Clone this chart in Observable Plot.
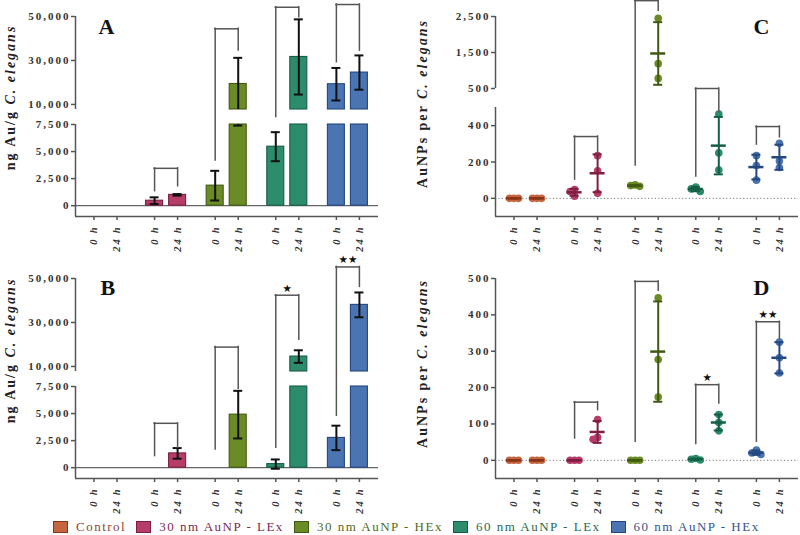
<!DOCTYPE html>
<html>
<head>
<meta charset="utf-8">
<script src="https://cdn.jsdelivr.net/npm/d3@7"></script>
<script src="https://cdn.jsdelivr.net/npm/@observablehq/plot@0.6"></script>
<style>
body{margin:0;background:#fff}
#fig{position:relative;width:800px;height:535px;background:#fff;overflow:hidden}
.panel{position:absolute;width:400px}
.panel svg{overflow:visible}
.panel g[aria-label^="y-axis"] text{font-family:"Liberation Serif",serif;font-weight:bold;font-size:11px;letter-spacing:2px;fill:#333}
.panel g[aria-label^="x-axis"] text{font-family:"Liberation Serif",serif;font-weight:bold;font-style:italic;font-size:10.5px;letter-spacing:1.8px;fill:#333}
.panel g[aria-label^="y-axis"] path,.panel g[aria-label^="y-axis"] line,
.panel g[aria-label^="x-axis"] path,.panel g[aria-label^="x-axis"] line{stroke:#555;stroke-width:1.5}
#legend{position:absolute;left:53px;top:519px;height:16px;display:flex;align-items:center;font-family:"Liberation Serif",serif;font-size:13px;letter-spacing:1.5px;white-space:nowrap}
.item{display:flex;align-items:center;margin-right:10px}
.sw{width:13px;height:10px;border:1.5px solid;margin-right:8px}
</style>
</head>
<body>
<div id="fig">
  <div class="panel" id="pA" style="left:0;top:0"></div>
  <div class="panel" id="pC" style="left:400px;top:0"></div>
  <div class="panel" id="pB" style="left:0;top:262px"></div>
  <div class="panel" id="pD" style="left:400px;top:262px"></div>
  <div id="legend"></div>
</div>
<script>
// ---------- categories ----------
const groups = ["Control", "30 nm AuNP - LEx", "30 nm AuNP - HEx", "60 nm AuNP - LEx", "60 nm AuNP - HEx"];
const times = ["0 h", "24 h"];
const colors = ["#C4663F", "#B63D68", "#6B8B26", "#2C8C6C", "#4A74B2"];
const darks = ["#8A3418", "#7D1E42", "#3F5A10", "#155E45", "#25477F"];
const legendInk = ["#8E4632", "#7E2A4E", "#4F6B1E", "#1F6B55", "#32558E"];

// ---------- Panel A : ng Au/g C. elegans (bars, mean ± SD) ----------
const aMean0 = [0, 460, 1850, 5450, 19200];
const aSd0 = [0, 310, 1370, 1340, 7400];
const aMean24 = [0, 1000, 19300, 31600, 24500];
const aSd24 = [0, 70, 11900, 17100, 7800];
const aBrTop = [null, 3450, 44400, 54200, 55450];
const aBrLeft = [null, 1340, 4180, 7600, 29200];
const aBrRight = [null, 1800, 34500, 49700, 34500];
const aSig = ["", "", "", "", ""];
const abTicks = [0, 2500, 5000, 7500, 10000, 30000, 50000];

// ---------- Panel B ----------
const bMean0 = [0, 0, 0, 330, 2750];
const bSd0 = [0, 0, 0, 430, 1130];
const bMean24 = [0, 1320, 4900, 14500, 38000];
const bSd24 = [0, 490, 2200, 2850, 5650];
const bBrTop = [null, 4100, 18800, 42400, 55250];
const bBrLeft = [null, 1070, 1680, 1840, 4800];
const bBrRight = [null, 1840, 7300, 22100, 46200];
const bSig = ["", "", "", "★", "★★"];

// ---------- Panel C : AuNPs per C. elegans (points, mean ± SD) ----------
const cPts0 = [[0, 0, 0], [48, 38, 12], [74, 70, 66], [62, 52, 38], [235, 180, 100]];
const cPts24 = [[0, 0, 0], [235, 152, 28], [2450, 1190, 780], [464, 250, 156], [303, 205, 170]];
const cMean0 = [0, 33, 70, 51, 172];
const cSd0 = [0, 19, 4, 12, 68];
const cMean24 = [0, 138, 1473, 290, 226];
const cSd24 = [0, 104, 870, 158, 69];
const cBrTop = [null, 340, 2940, 500, 395];
const cBrLeft = [null, 103, 180, 120, 296];
const cBrRight = [null, 244, 2660, 475, 336];
const cSig = ["", "", "", "", ""];
const cTicks = [0, 200, 400, 500, 1500, 2500];

// ---------- Panel D ----------
const dPts0 = [[0, 0, 0], [0, 0, 0], [0, 0, 0], [5, 3, 1], [28, 20, 16]];
const dPts24 = [[0, 0, 0], [112, 63, 58], [447, 277, 174], [126, 104, 81], [325, 282, 240]];
const dMean0 = [0, 0, 0, 3, 21];
const dSd0 = [0, 0, 0, 2, 6];
const dMean24 = [0, 78, 299, 104, 282];
const dSd24 = [0, 30, 138, 22, 43];
const dBrTop = [null, 160, 492, 208, 381];
const dBrLeft = [null, 60, 51, 45, 51];
const dBrRight = [null, 138, 466, 156, 334];
const dSig = ["", "", "", "★", "★★"];
const dTicks = [0, 100, 200, 300, 400, 500];

const titleMass = ["ng Au/g ", "C. elegans"];
const titleCount = ["AuNPs per ", "C. elegans"];

// ---------- layout ----------
const W = 400, H = 262, MT = 16, MB = 46;
const SPLIT = 0.38;               // 0 h -> 24 h offset within a group (group step = 1)
const X_DOMAIN = [-0.305, 4.695];
const SERIF = "'Liberation Serif', 'Times New Roman', serif";
const pos = d => d.gi + d.ti * SPLIT;

function buildRows(m0, s0, m24, s24, p0, p24) {
  const out = [];
  groups.forEach((group, gi) => times.forEach((time, ti) => {
    out.push({group, gi, time, ti,
      mean: (ti ? m24 : m0)[gi], sd: (ti ? s24 : s0)[gi],
      pts: p0 ? (ti ? p24 : p0)[gi] : null});
  }));
  return out;
}
function buildBrackets(top, left, right, sig) {
  return groups.map((group, gi) => ({group, gi, top: top[gi], left: left[gi], right: right[gi], sig: sig[gi]}))
    .filter(d => d.top != null);
}
// split an interval around axis breaks
function segs(lo, hi, gaps) {
  let parts = [[lo, hi]];
  for (const [a, b] of gaps) {
    parts = parts.flatMap(([l, h]) => {
      const r = [];
      if (l < a) r.push([l, Math.min(h, a)]);
      if (h > b) r.push([Math.max(l, b), h]);
      return r;
    });
  }
  return parts;
}
function swarm(vals, ys) {
  const placed = [];
  return vals.map(v => {
    const py = ys(v);
    for (const o of [0, -4.5, 4.5, -9, 9]) {
      if (placed.every(p => Math.hypot(p.x - o, p.y - py) >= 4.5)) { placed.push({x: o, y: py}); return o; }
    }
    placed.push({x: 0, y: py}); return 0;
  });
}

function panel(cfg) {
  const {id, kind, letter, titleParts, yDomain, yRange, yTicks, gaps, rows, brackets, ml, mr,
         titleDx, titleDy, letterDx, letterDy} = cfg;
  const k = (W - ml - mr) / (X_DOMAIN[1] - X_DOMAIN[0]);
  const u = px => px / k;
  const ys = d3.scaleLinear().domain(yDomain).range(yRange);
  const xTicks = groups.flatMap((g, gi) => times.map((t, ti) => gi + ti * SPLIT));
  const marks = [];

  if (kind === "bar") {
    marks.push(Plot.ruleY([0], {stroke: "#666", strokeWidth: 1.3}));
    const barSegs = rows.filter(d => d.mean > 0)
      .flatMap(d => segs(0, d.mean, gaps).map(([y1, y2]) => ({...d, y1, y2})));
    marks.push(Plot.rect(barSegs, {x1: d => pos(d) - u(8.5), x2: d => pos(d) + u(8.5), y1: "y1", y2: "y2",
      fill: d => colors[d.gi], stroke: d => darks[d.gi], strokeWidth: 1.1}));
  } else {
    marks.push(Plot.ruleY([0], {stroke: "#777", strokeWidth: 1, strokeDasharray: "1.2,2.2"}));
    const dots = rows.flatMap(d => {
      const offs = swarm(d.pts, ys);
      return d.pts.map((v, i) => ({...d, v, off: offs[i]}));
    });
    marks.push(Plot.dot(dots, {x: d => pos(d) + u(d.off), y: "v", r: 3.8, fill: d => colors[d.gi]}));
  }

  const errRows = kind === "bar" ? rows.filter(d => d.mean > 0) : rows;
  const errInk = d => kind === "bar" ? "#111" : darks[d.gi];
  const errSegs = errRows.flatMap(d => segs(d.mean - d.sd, d.mean + d.sd, gaps).map(([y1, y2]) => ({...d, y1, y2})));
  marks.push(Plot.ruleX(errSegs, {x: pos, y1: "y1", y2: "y2", stroke: errInk, strokeWidth: 2}));
  const caps = errRows.flatMap(d => [d.mean - d.sd, d.mean + d.sd].map(y => ({...d, y})));
  marks.push(Plot.ruleY(caps, {y: "y", x1: d => pos(d) - u(4.5), x2: d => pos(d) + u(4.5), stroke: errInk, strokeWidth: 2}));
  if (kind !== "bar") {
    marks.push(Plot.ruleY(rows, {y: "mean", x1: d => pos(d) - u(7.5), x2: d => pos(d) + u(7.5),
      stroke: d => darks[d.gi], strokeWidth: 2.5}));
  }

  // significance brackets
  const legs = brackets.flatMap(b => [
    {gi: b.gi, ti: 0, top: b.top, bottom: b.left},
    {gi: b.gi, ti: 1, top: b.top, bottom: b.right}]);
  marks.push(Plot.ruleX(legs, {x: pos, y1: "bottom", y2: "top", stroke: "#555", strokeWidth: 1.5, strokeLinecap: "square"}));
  marks.push(Plot.ruleY(brackets, {y: "top", x1: b => b.gi, x2: b => b.gi + SPLIT, stroke: "#555", strokeWidth: 1.5, strokeLinecap: "square"}));
  marks.push(Plot.text(brackets.filter(b => b.sig), {x: b => b.gi + SPLIT / 2, y: "top", text: "sig", dy: -7,
    fontSize: 10.5, fill: "#111", fontFamily: "DejaVu Sans"}));

  // axis lines (broken)
  const axisSegs = segs(yDomain[0], yDomain[yDomain.length - 1], gaps).map(([y1, y2]) => ({y1, y2}));
  marks.push(Plot.ruleX(axisSegs, {x: () => X_DOMAIN[0], y1: "y1", y2: "y2", stroke: "#555", strokeWidth: 1.5}));
  marks.push(Plot.ruleY([yDomain[0]], {stroke: "#555", strokeWidth: 1.5}));

  // panel letter + axis title
  marks.push(Plot.text([letter], {frameAnchor: "top-left", textAnchor: "start", lineAnchor: "top",
    dx: letterDx, dy: letterDy, fontSize: 22, fontWeight: "bold", fill: "#111", fontFamily: SERIF}));
  const title = titleParts.join("");
  marks.push(Plot.text([title], {frameAnchor: "left", textAnchor: "middle", lineAnchor: "middle", rotate: -90,
    dx: titleDx, dy: titleDy, fontSize: 14, fontWeight: "bold", fill: "#222", fontFamily: SERIF}));

  const svg = Plot.plot({
    width: W, height: H, marginLeft: ml, marginRight: mr, marginTop: MT, marginBottom: MB,
    style: {background: "transparent", overflow: "visible", fontFamily: SERIF},
    x: {type: "linear", domain: X_DOMAIN, ticks: xTicks,
        tickFormat: v => times[Math.abs(v - Math.round(v)) < 1e-6 ? 0 : 1],
        tickRotate: -90, tickSize: 4, tickPadding: 5, label: null},
    y: {type: "linear", domain: yDomain, range: yRange, ticks: yTicks, tickFormat: d3.format(","),
        tickSize: 4, tickPadding: 1, label: null},
    color: {type: "identity"},
    marks
  });
  d3.select(svg).selectAll("text").filter(function () { return this.textContent === title; })
    .each(function () {
      const t = d3.select(this).attr("letter-spacing", "2px").attr("text-anchor", "middle");
      t.text(null);
      t.append("tspan").text(titleParts[0]);
      t.append("tspan").attr("font-style", "italic").text(titleParts[1]);
    });
  document.getElementById(id).append(svg);
}

const brokenMass = {yDomain: [-1000, 7500, 7700, 50000], yRange: [216, 124, 109, 16], gaps: [[7500, 7700]], yTicks: abTicks};

panel({id: "pA", kind: "bar", letter: "A", titleParts: titleMass, ...brokenMass,
  rows: buildRows(aMean0, aSd0, aMean24, aSd24), brackets: buildBrackets(aBrTop, aBrLeft, aBrRight, aSig),
  ml: 75, mr: 22, titleDx: -65, titleDy: -19, letterDx: 23, letterDy: 2});
panel({id: "pB", kind: "bar", letter: "B", titleParts: titleMass, ...brokenMass,
  rows: buildRows(bMean0, bSd0, bMean24, bSd24), brackets: buildBrackets(bBrTop, bBrLeft, bBrRight, bSig),
  ml: 75, mr: 22, titleDx: -65, titleDy: -28, letterDx: 25, letterDy: 1});
panel({id: "pC", kind: "dot", letter: "C", titleParts: titleCount,
  yDomain: [-100, 499.9, 500, 2500], yRange: [216, 107, 88, 16], gaps: [[499.9, 500]], yTicks: cTicks,
  rows: buildRows(cMean0, cSd0, cMean24, cSd24, cPts0, cPts24), brackets: buildBrackets(cBrTop, cBrLeft, cBrRight, cSig),
  ml: 95, mr: 2, titleDx: -73, titleDy: -13, letterDx: 258, letterDy: 2});
panel({id: "pD", kind: "dot", letter: "D", titleParts: titleCount,
  yDomain: [-50, 500], yRange: [216, 16], gaps: [], yTicks: dTicks,
  rows: buildRows(dMean0, dSd0, dMean24, dSd24, dPts0, dPts24), brackets: buildBrackets(dBrTop, dBrLeft, dBrRight, dSig),
  ml: 95, mr: 2, titleDx: -73, titleDy: -15, letterDx: 258, letterDy: 1});

// legend
const legend = d3.select("#legend");
groups.forEach((g, i) => {
  const item = legend.append("div").attr("class", "item");
  item.append("div").attr("class", "sw").style("background", colors[i]).style("border-color", darks[i]);
  item.append("span").style("color", legendInk[i]).text(g);
});
</script>
</body>
</html>
